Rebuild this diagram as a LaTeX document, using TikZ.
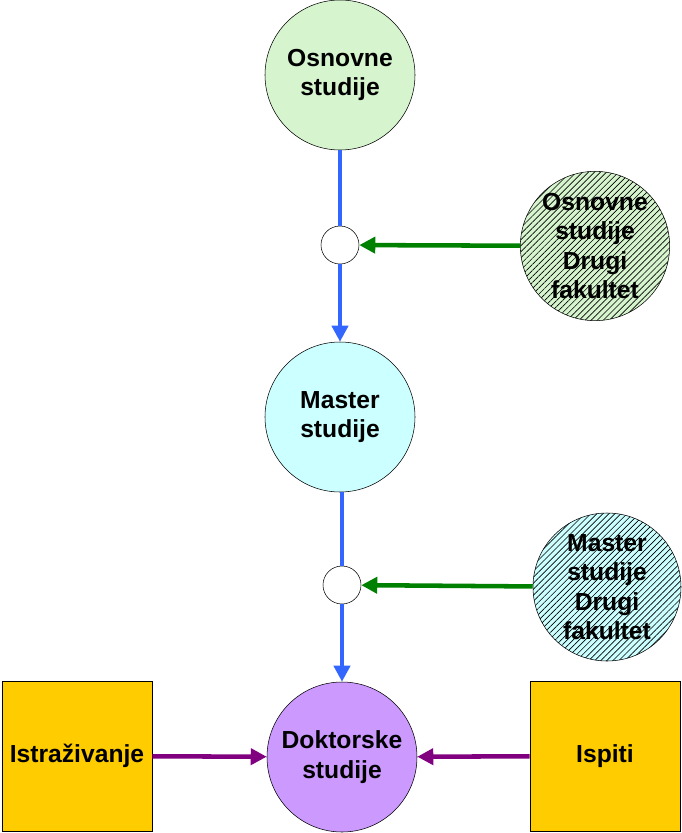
\documentclass[tikz,border=0pt]{standalone}
\usepackage{fontspec}
\setmainfont{Liberation Sans}
\usetikzlibrary{patterns.meta,arrows.meta}
\definecolor{cgreen}{HTML}{D6F5CE}
\definecolor{ccyan}{HTML}{CCFFFF}
\definecolor{cpurp}{HTML}{CC99FF}
\definecolor{cyel}{HTML}{FFCC00}
\definecolor{cblue}{HTML}{3366FF}
\definecolor{dgreen}{HTML}{008000}
\definecolor{dpurp}{HTML}{800080}
\begin{document}
\begin{tikzpicture}[x=0.75pt,y=-0.75pt,
  txt/.style={font=\bfseries\fontsize{18.5}{22}\selectfont},
  big/.style={circle,draw=black,minimum size=112.5pt,inner sep=0pt,align=center,txt},
  hat/.style={circle,draw=black,inner sep=0pt,align=center,txt,pattern={Lines[angle=45,distance=3.2pt,line width=0.5pt]}},
  small/.style={circle,draw=black,fill=white,minimum size=28.5pt,inner sep=0pt},
  box/.style={draw=black,fill=cyel,minimum size=112.5pt,inner sep=0pt,txt},
  ar/.style={line width=3.4pt,-{Triangle[length=12pt,width=12pt]}},
  ln/.style={line width=3.4pt}]
\useasboundingbox (0,0) rectangle (682,833);
\node[big,fill=cgreen] (os) at (340,75) {Osnovne\\studije};
\node[small] (s1) at (340,245) {};
\node[hat,minimum size=100pt,preaction={fill=cgreen}] (h1) at (595,246) {Osnovne\\studije\\Drugi\\fakultet};
\node[big,fill=ccyan] (ms) at (340,417) {Master\\studije};
\node[small] (s2) at (342,585) {};
\node[hat,minimum size=111pt,preaction={fill=ccyan}] (h2) at (607,587) {Master\\studije\\Drugi\\fakultet};
\node[big,fill=cpurp] (dk) at (342,757) {Doktorske\\studije};
\node[box] (is) at (77,756) {Istraživanje};
\node[box] (ip) at (605,756) {Ispiti};
\draw[ln,cblue] (os) -- (s1);
\draw[ar,cblue] (s1) -- (ms);
\draw[ln,cblue] (ms.south -| s2) -- (s2);
\draw[ar,cblue] (s2) -- (dk);
\draw[ar,dgreen] (h1) -- (s1);
\draw[ar,dgreen] (h2) -- (s2);
\draw[ar,dpurp] (is) -- (dk);
\draw[ar,dpurp] (ip) -- (dk);
\end{tikzpicture}
\end{document}
